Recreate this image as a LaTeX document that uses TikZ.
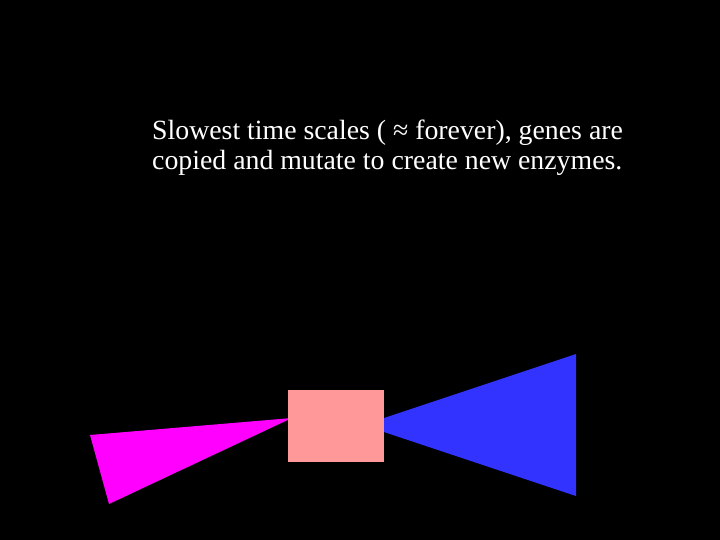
\documentclass[tikz,border=0pt]{standalone}
\usepackage{fontspec}
\setmainfont{Liberation Serif}
\usepackage{tikz}
\definecolor{rose}{RGB}{255,153,153}
\definecolor{gblue}{RGB}{51,51,255}
\definecolor{gmagenta}{RGB}{255,0,255}

\begin{document}
\begin{tikzpicture}[x=1bp,y=-1bp, inner sep=0pt, txt/.style={anchor=base west, text=white, font=\fontsize{27.8bp}{30bp}\selectfont}]
\fill[black] (0,0) rectangle (720,540);
\node (line1) at (152,139.5) [txt] {Slowest time scales ( ≈ forever), genes are};
\node (line2) at (152,169.5) [txt] {copied and mutate to create new enzymes.};
% the two cones either side of the box
\fill[gmagenta] (90,435) -- (109,504) -- (292,418) -- cycle;
\fill[gblue] (576,354) -- (576,496) -- (363,425) -- cycle;
\node (box) at (336,426) [rectangle, fill=rose, minimum width=96bp, minimum height=72bp] {};
\end{tikzpicture}
\end{document}
